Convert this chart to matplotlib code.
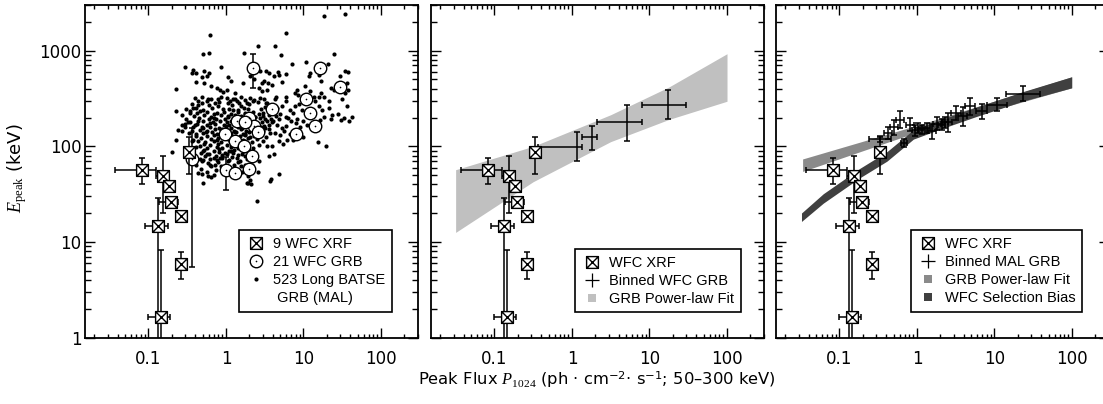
import numpy as np
import matplotlib
matplotlib.use("Agg")
import matplotlib.pyplot as plt
import matplotlib.ticker as mticker
from matplotlib.path import Path
from matplotlib.lines import Line2D

plt.rcParams["font.family"] = ["Liberation Sans", "DejaVu Sans"]
plt.rcParams["mathtext.fontset"] = "custom"
plt.rcParams["mathtext.rm"] = "Liberation Serif"
plt.rcParams["mathtext.it"] = "Liberation Serif:italic"
plt.rcParams["mathtext.sf"] = "DejaVu Sans"

# ---- WFC XRF (same in all panels) ----
xrf_flux = [0.082, 0.152, 0.184, 0.193, 0.263, 0.134, 0.263, 0.144, 0.336]
xrf_flux_lo = [0.045, 0.025, 0.025, 0.055, 0.03, 0.044, 0.03, 0.044, 0.03]
xrf_flux_hi = [0.042, 0.028, 0.03, 0.049, 0.03, 0.046, 0.03, 0.046, 0.03]
xrf_epeak = [57, 49, 38.7, 26.2, 18.8, 14.8, 5.9, 1.66, 88]
xrf_epeak_lo = [17, 29, 4, 3, 2, 14.3, 1.8, 1.16, 36]
xrf_epeak_hi = [19, 30, 4, 3, 2, 14.2, 1.9, 6.64, 36]

# ---- WFC GRB (panel 1) ----
grb_flux = [0.36, 1.0, 1.31, 2.0, 2.21, 1.37, 2.0, 2.3, 0.97, 1.31, 1.72,
            2.14, 3.89, 8.0, 10.8, 12.1, 14.1, 16.3, 29.6, 1.75, 2.6]
grb_epeak = [74, 57, 52.6, 58, 662, 183, 198, 165, 133, 115, 100,
             78.6, 243, 133, 316, 221, 162, 651, 419, 180, 140]
grb_epeak_lo = [68.5, 22.4, 0, 0, 254, 0, 0, 0, 0, 0, 0,
                0, 0, 0, 0, 0, 0, 0, 0, 0, 0]
grb_epeak_hi = [82, 20, 0, 0, 253, 0, 0, 0, 0, 0, 0,
                0, 0, 0, 0, 0, 0, 0, 0, 0, 0]

# ---- BATSE long GRB (MAL), log10(P), log10(Epeak) ----
batse_log = [
    (-0.21, 3.16), (0.41, 3.05), (0.23, 2.98), (-0.22, 2.98), (-0.29, 2.96), (-0.53, 2.83),
    (-0.43, 2.80), (-0.44, 2.77), (-0.39, 2.77), (-0.28, 2.79), (-0.22, 2.77), (-0.25, 2.73),
    (-0.07, 2.83), (0.03, 2.72), (0.07, 2.68), (0.22, 2.66), (-0.31, 2.72), (-0.38, 2.67),
    (-0.28, 2.66), (-0.19, 2.63), (-0.12, 2.61), (-0.08, 2.59), (-0.04, 2.57), (0.01, 2.59),
    (-0.64, 2.60), (0.12, 2.56), (0.31, 2.73), (0.46, 2.66), (0.42, 2.61), (-0.31, 2.52),
    (-0.36, 2.47), (-0.25, 2.47), (-0.19, 2.49), (-0.14, 2.45), (-0.10, 2.49), (0.01, 2.51),
    (0.05, 2.47), (0.12, 2.49), (0.17, 2.45), (0.25, 2.48), (0.31, 2.51), (0.35, 2.47),
    (0.44, 2.51), (-0.44, 2.44), (-0.38, 2.40), (-0.47, 2.37), (-0.34, 2.37), (-0.64, 2.37),
    (-0.57, 2.33), (0.44, 2.79), (0.36, 2.70),
    (0.77, 3.18), (0.63, 3.05), (0.71, 2.95), (1.40, 2.96), (0.85, 2.86), (1.03, 2.88),
    (1.32, 2.86), (0.52, 2.79), (0.56, 2.77), (0.62, 2.73), (0.68, 2.75), (0.67, 2.78),
    (0.77, 2.76), (0.72, 2.67), (0.49, 2.68), (0.54, 2.66), (0.59, 2.64), (0.53, 2.59),
    (0.47, 2.58), (0.64, 2.52), (0.63, 2.49), (0.59, 2.42), (0.53, 2.45), (0.49, 2.49),
    (0.77, 2.52), (0.77, 2.47), (0.83, 2.38), (0.89, 2.42), (0.87, 2.35), (0.94, 2.44),
    (0.98, 2.38), (0.92, 2.59), (0.89, 2.56), (0.93, 2.54), (1.02, 2.63), (1.09, 2.58),
    (1.13, 2.52), (1.15, 2.47), (1.20, 2.52), (1.22, 2.56), (1.26, 2.52), (1.20, 2.42),
    (1.24, 2.38), (1.33, 2.40), (1.37, 2.33), (1.45, 2.34), (1.50, 2.49), (1.53, 2.56),
    (1.58, 2.59), (1.56, 2.66), (1.47, 2.74), (1.53, 2.79), (1.58, 2.78), (1.36, 2.61),
    (1.40, 2.59), (1.20, 2.75), (1.22, 2.68), (1.09, 2.77), (1.07, 2.73), (1.33, 2.47),
    (1.26, 2.31), (1.56, 2.42), (1.63, 2.31), (1.52, 2.30),
    (1.26, 3.36), (1.54, 3.38), (1.29, 2.00), (1.19, 2.05), (1.36, 2.29), (1.48, 2.28),
    (1.59, 2.27), (0.68, 2.06), (0.73, 2.02), (0.79, 2.07), (0.53, 2.00), (0.59, 2.00),
    (0.55, 1.90), (0.62, 1.92), (0.58, 1.66), (0.69, 1.71),
    (0.53, 2.27), (0.60, 2.25), (0.66, 2.22), (0.72, 2.19), (0.78, 2.21), (0.84, 2.26),
    (0.90, 2.24), (0.95, 2.20), (0.49, 2.21), (0.56, 2.18), (0.63, 2.14), (0.70, 2.12),
    (0.75, 2.16), (0.82, 2.13), (0.88, 2.17), (0.47, 2.14), (0.52, 2.10), (0.58, 2.29),
    (0.68, 2.29), (0.80, 2.30), (0.92, 2.29), (0.99, 2.27), (0.48, 2.35), (0.55, 2.33),
    (0.62, 2.37), (0.70, 2.34), (0.77, 2.31), (0.50, 2.41), (0.66, 2.40), (0.72, 2.42),
    (0.87, 2.07), (0.95, 2.14), (1.21, 2.28), (1.05, 2.22), (1.10, 2.32), (1.00, 2.10),
    (-0.70, 1.94), (-0.62, 2.17), (-0.57, 2.22), (-0.53, 2.20), (-0.49, 2.25), (-0.44, 2.16),
    (-0.40, 2.22), (-0.36, 2.27), (-0.31, 2.20), (-0.38, 2.13), (-0.42, 2.07), (-0.36, 2.06),
    (-0.34, 2.00), (-0.29, 1.95), (-0.25, 1.92), (-0.29, 1.86), (-0.23, 1.83), (-0.16, 1.88),
    (-0.14, 1.81), (-0.38, 1.81), (-0.31, 1.71), (-0.19, 1.68), (-0.08, 1.88), (-0.01, 1.93),
    (0.07, 1.95), (0.18, 1.85), (0.25, 1.81), (0.33, 1.81), (0.42, 1.85), (0.41, 1.73),
    (0.31, 1.65), (0.27, 1.62), (0.40, 1.43), (-0.36, 1.72), (-0.23, 1.69), (-0.30, 1.62),
    (-0.19, 1.79), (-0.12, 1.86), (-0.64, 2.07), (-0.57, 2.16), (-0.53, 2.23), (-0.51, 2.39),
    (0.29, 1.62), (0.32, 1.61), (0.57, 1.64),
    # dense core
    (-0.40, 2.505), (-0.23, 2.492), (-0.06, 2.512), (0.09, 2.497), (0.20, 2.518), (0.36, 2.488),
    (-0.31, 2.455), (-0.09, 2.468), (0.03, 2.449), (0.14, 2.472), (0.27, 2.452), (0.41, 2.466),
    (0.52, 2.458), (-0.36, 2.428), (-0.22, 2.437), (-0.10, 2.421), (0.08, 2.434), (0.20, 2.426),
    (0.30, 2.441), (0.57, 2.423), (-0.42, 2.397), (-0.30, 2.384), (-0.18, 2.401), (-0.04, 2.386),
    (0.04, 2.395), (0.15, 2.381), (0.23, 2.404), (0.28, 2.388), (0.45, 2.392), (0.56, 2.385),
    (-0.47, 2.352), (-0.37, 2.344), (-0.25, 2.361), (-0.11, 2.347), (-0.03, 2.357), (0.06, 2.341),
    (0.15, 2.355), (0.25, 2.348), (0.35, 2.362), (0.42, 2.343), (0.61, 2.354),
    (-0.41, 2.318), (-0.28, 2.326), (-0.19, 2.311), (-0.06, 2.323), (0.03, 2.314), (0.12, 2.329),
    (0.19, 2.316), (0.31, 2.324), (0.37, 2.309), (0.48, 2.321), (0.65, 2.315),
    (-0.51, 2.287), (-0.35, 2.296), (-0.22, 2.281), (-0.15, 2.293), (-0.01, 2.284), (0.09, 2.297),
    (0.16, 2.283), (0.25, 2.291), (0.32, 2.279), (0.44, 2.294), (0.50, 2.286),
    (-0.46, 2.258), (-0.29, 2.266), (-0.17, 2.251), (-0.08, 2.263), (0.01, 2.254), (0.07, 2.268),
    (0.14, 2.249), (0.20, 2.261), (0.29, 2.255), (0.36, 2.267), (0.47, 2.252), (0.61, 2.262),
    (-0.37, 2.233), (-0.24, 2.224), (-0.14, 2.238), (-0.03, 2.227), (0.04, 2.221), (0.11, 2.236),
    (0.17, 2.225), (0.26, 2.232), (0.33, 2.219), (0.39, 2.234), (0.56, 2.228),
    (-0.42, 2.204), (-0.29, 2.193), (-0.21, 2.207), (-0.09, 2.196), (0.00, 2.209), (0.06, 2.191),
    (0.16, 2.202), (0.21, 2.195), (0.30, 2.208), (0.34, 2.189), (0.45, 2.203), (0.51, 2.194),
    (-0.33, 2.174), (-0.25, 2.163), (-0.14, 2.178), (-0.07, 2.166), (0.03, 2.172), (0.10, 2.161),
    (0.20, 2.177), (0.26, 2.165), (0.37, 2.171), (0.48, 2.163),
    (-0.48, 2.143), (-0.30, 2.135), (-0.18, 2.148), (-0.11, 2.132), (-0.01, 2.145), (0.06, 2.137),
    (0.13, 2.149), (0.24, 2.133), (0.30, 2.146), (0.43, 2.138), (0.57, 2.144),
    (-0.39, 2.113), (-0.24, 2.104), (-0.15, 2.117), (-0.04, 2.102), (0.07, 2.115), (0.18, 2.106),
    (0.25, 2.119), (0.36, 2.103), (0.44, 2.112),
    (-0.32, 2.084), (-0.19, 2.073), (-0.10, 2.087), (0.02, 2.076), (0.11, 2.089), (0.22, 2.071),
    (0.29, 2.082), (0.40, 2.077),
    (-0.44, 2.054), (-0.27, 2.046), (-0.15, 2.058), (-0.07, 2.043), (0.05, 2.052), (0.14, 2.047),
    (0.25, 2.059), (0.33, 2.044), (0.48, 2.051),
    (-0.28, 2.023), (-0.20, 2.014), (-0.10, 2.027), (0.01, 2.016), (0.08, 2.028), (0.20, 2.012),
    (0.27, 2.025), (0.42, 2.018),
    (-0.39, 1.994), (-0.24, 1.985), (-0.12, 1.997), (-0.05, 1.983), (0.07, 1.992), (0.15, 1.986),
    (0.26, 1.998), (0.35, 1.981),
    (-0.28, 1.963), (-0.16, 1.954), (-0.09, 1.967), (0.04, 1.955), (0.11, 1.966), (0.23, 1.952),
    (0.30, 1.964), (-0.32, 1.933), (-0.22, 1.924), (-0.09, 1.936), (0.01, 1.922), (0.09, 1.931),
    (0.21, 1.925), (0.28, 1.938), (-0.27, 1.903), (-0.13, 1.894), (-0.05, 1.906), (0.08, 1.892),
    (0.15, 1.905), (0.25, 1.897), (0.36, 1.902), (-0.34, 1.872), (-0.20, 1.864), (-0.05, 1.876),
    (0.04, 1.861), (0.14, 1.873), (0.27, 1.866), (-0.31, 1.843), (-0.10, 1.834), (0.03, 1.846),
    (0.16, 1.838), (-0.21, 1.804), (-0.06, 1.795), (0.10, 1.808), (0.19, 1.797),
    (-0.32, 1.764), (-0.13, 1.756), (0.01, 1.768), (0.14, 1.753),
    (-0.24, 1.733), (0.08, 1.724), (0.21, 1.736), (-0.16, 1.702), (0.29, 1.695),
    (-0.13, 2.285), (0.02, 2.305), (0.18, 2.245), (0.28, 2.215), (-0.05, 2.185), (0.12, 2.155),
    (0.22, 2.125), (-0.02, 2.095), (0.15, 2.065), (0.33, 2.265), (-0.20, 2.245), (0.09, 2.375),
    (-0.16, 2.335), (0.38, 2.305), (0.24, 2.335), (0.41, 2.185), (-0.26, 2.155), (0.31, 2.095),
    (-0.12, 2.065), (0.19, 2.015),
]

# ---- binned WFC GRB (panel 2) ----
bin_flux = [1.17, 1.80, 5.17, 17.2]
bin_flux_lo = [0.80, 0.44, 3.05, 9.1]
bin_flux_hi = [0.19, 0.32, 2.9, 12.1]
bin_epeak = [97.6, 124, 178, 273]
bin_epeak_lo = [26.8, 31.7, 65, 78]
bin_epeak_hi = [42.4, 41, 95, 113]

# GRB power-law fit band (panel 2)
fit_flux = [0.0316, 0.316, 3.16, 17.8, 100]
fit_lo = [12.6, 42.7, 112, 191, 296]
fit_hi = [57, 100, 214, 417, 929]

# ---- binned MAL GRB (panel 3), errors in dex ----
mal_flux = [0.333, 0.426, 0.505, 0.604, 0.68, 0.81, 0.94, 1.04, 1.15, 1.33, 1.55,
            1.80, 2.08, 2.30, 2.54, 3.19, 3.89, 4.83, 6.83, 10.7, 23.5]
mal_epeak = [119, 138, 158, 190, 109, 169, 147, 156, 150, 156, 144,
             173, 169, 178, 178, 224, 206, 262, 232, 273, 354]
mal_dlogP = [0.14, 0.05, 0.05, 0.05, 0.04, 0.05, 0.04, 0.04, 0.04, 0.05, 0.05,
             0.05, 0.05, 0.04, 0.05, 0.06, 0.06, 0.06, 0.07, 0.13, 0.22]
mal_dlogE = [0.03, 0.06, 0.08, 0.09, 0.04, 0.07, 0.06, 0.05, 0.05, 0.05, 0.08,
             0.07, 0.06, 0.06, 0.10, 0.07, 0.10, 0.09, 0.08, 0.07, 0.08]

# GRB power-law fit (panel 3) and WFC selection bias band
pl_flux = [0.0335, 1.09, 99]
pl_lo = [54.7, 144, 409]
pl_hi = [73.8, 169, 533]
bias_flux = [0.0324, 0.062, 0.184, 0.41, 0.90, 1.98, 5.33, 23.5, 99]
bias_lo = [16.4, 25.5, 47, 70, 119, 151, 200, 298, 409]
bias_hi = [20.1, 32, 59, 88, 149, 189, 251, 374, 533]

# square with a cross marker
xsq = Path([(-1, -1), (1, -1), (1, 1), (-1, 1), (-1, -1),
            (-1, -1), (1, 1), (-1, 1), (1, -1)],
           [Path.MOVETO, Path.LINETO, Path.LINETO, Path.LINETO, Path.CLOSEPOLY,
            Path.MOVETO, Path.LINETO, Path.MOVETO, Path.LINETO])

W, H = 1103, 404
fig = plt.figure(figsize=(W / 100, H / 100), dpi=100)
ax_left = [85, 431, 776]
ax_w = 333
axes = [fig.add_axes([l / W, 66.3 / H, ax_w / W, 332.7 / H]) for l in ax_left]

err_kw = dict(fmt="none", ecolor="k", elinewidth=1.1, capsize=2.3, capthick=1.1)


def draw_xrf(ax):
    ax.errorbar(xrf_flux, xrf_epeak, xerr=[xrf_flux_lo, xrf_flux_hi],
                yerr=[xrf_epeak_lo, xrf_epeak_hi], zorder=4, **err_kw)
    ax.plot(xrf_flux, xrf_epeak, ls="none", marker=xsq, ms=8.5, mfc="white",
            mec="k", mew=1.0, zorder=5)


for i, ax in enumerate(axes):
    ax.set_xscale("log")
    ax.set_yscale("log")
    ax.set_xlim(0.0152, 300)
    ax.set_ylim(1, 3000)
    ax.xaxis.set_major_locator(mticker.FixedLocator([0.01, 0.1, 1, 10, 100]))
    ax.yaxis.set_major_locator(mticker.FixedLocator([1, 10, 100, 1000]))
    ax.xaxis.set_minor_locator(mticker.LogLocator(subs=np.arange(2, 10), numticks=20))
    ax.yaxis.set_minor_locator(mticker.LogLocator(subs=np.arange(2, 10), numticks=20))
    fmt = mticker.FuncFormatter(lambda v, p: "%g" % v)
    ax.xaxis.set_major_formatter(fmt)
    ax.yaxis.set_major_formatter(fmt)
    ax.xaxis.set_minor_formatter(mticker.NullFormatter())
    ax.yaxis.set_minor_formatter(mticker.NullFormatter())
    ax.tick_params(which="both", direction="in", top=True, right=True, width=1.0,
                   labelsize=12, colors="k", labelfontfamily="DejaVu Sans")
    ax.tick_params(axis="both", which="major", length=7.2)
    ax.tick_params(axis="x", which="minor", length=3.0)
    ax.tick_params(axis="y", which="minor", length=4.3)
    ax.tick_params(axis="x", which="major", pad=9.0)
    ax.tick_params(axis="y", which="major", pad=2.5)
    if i > 0:
        ax.tick_params(labelleft=False)
    for s in ax.spines.values():
        s.set_linewidth(1.3)

leg_kw = dict(loc="lower right", fontsize=10.5, labelspacing=0.28, handlelength=1.4,
              handletextpad=0.5, borderpad=0.45, borderaxespad=0, fancybox=False,
              edgecolor="k", framealpha=1)

# panel 1
ax = axes[0]
bl = np.array(batse_log)
ax.plot(10 ** bl[:, 0], 10 ** bl[:, 1], ls="none", marker="o", ms=3.0, color="k",
        mew=0, zorder=2)
ax.errorbar(grb_flux, grb_epeak, yerr=[grb_epeak_lo, grb_epeak_hi], zorder=2.5, **err_kw)
ax.plot(grb_flux, grb_epeak, ls="none", marker="o", ms=9, mfc="white", mec="k",
        mew=1.0, zorder=3)
ax.plot(grb_flux, grb_epeak, ls="none", marker="o", ms=1.2, color="k", mew=0, zorder=3.5)
draw_xrf(ax)
h_xrf = Line2D([], [], ls="none", marker=xsq, ms=8.5, mfc="white", mec="k", mew=1.0)
h_circ = Line2D([], [], ls="none", marker="o", ms=9, mfc="white", mec="k", mew=1.0)
h_cdot = Line2D([], [], ls="none", marker="o", ms=1.2, color="k", mew=0)
h_dot = Line2D([], [], ls="none", marker="o", ms=3.0, color="k", mew=0)
h_none = Line2D([], [], ls="none")
leg = ax.legend([h_xrf, (h_circ, h_cdot), h_dot, h_none],
                ["9 WFC XRF", "21 WFC GRB", "523 Long BATSE", " GRB (MAL)"],
                bbox_to_anchor=(0.922, 0.078), **leg_kw)
leg.get_frame().set_linewidth(1.2)

# panel 2
ax = axes[1]
ax.fill_between(fit_flux, fit_lo, fit_hi, color="#c0c0c0", lw=0, zorder=1)
ax.errorbar(bin_flux, bin_epeak, xerr=[bin_flux_lo, bin_flux_hi],
            yerr=[bin_epeak_lo, bin_epeak_hi], zorder=3, **err_kw)
draw_xrf(ax)
h_plus = Line2D([], [], ls="none", marker="+", ms=10, mew=0.9, color="k")
h_g1 = Line2D([], [], ls="none", marker="s", ms=6, color="#c0c0c0", mew=0)
leg = ax.legend([h_xrf, h_plus, h_g1], ["WFC XRF", "Binned WFC GRB", "GRB Power-law Fit"],
                bbox_to_anchor=(0.931, 0.076), **leg_kw)
leg.get_frame().set_linewidth(1.2)

# panel 3
ax = axes[2]
ax.fill_between(pl_flux, pl_lo, pl_hi, color="#8a8a8a", lw=0, zorder=1)
ax.fill_between(bias_flux, bias_lo, bias_hi, color="#404040", lw=0, zorder=1.5)
mf = np.array(mal_flux)
me = np.array(mal_epeak)
dp = 10 ** np.array(mal_dlogP)
de = 10 ** np.array(mal_dlogE)
ax.errorbar(mf, me, xerr=[mf - mf / dp, mf * dp - mf], yerr=[me - me / de, me * de - me],
            zorder=3, **err_kw)
draw_xrf(ax)
h_g2 = Line2D([], [], ls="none", marker="s", ms=6, color="#8a8a8a", mew=0)
h_g3 = Line2D([], [], ls="none", marker="s", ms=6, color="#404040", mew=0)
leg = ax.legend([h_xrf, h_plus, h_g2, h_g3],
                ["WFC XRF", "Binned MAL GRB", "GRB Power-law Fit", "WFC Selection Bias"],
                bbox_to_anchor=(0.92, 0.078), **leg_kw)
leg.get_frame().set_linewidth(1.2)

fig.text(17 / W, 1 - 168 / H, r"$E_{\mathrm{peak}}$ (keV)", rotation=90,
         ha="center", va="center", fontsize=13, family="DejaVu Sans")
fig.text(597 / W, 1 - 368.5 / H,
         r"Peak Flux $P_{\mathrm{1024}}$ (ph · cm$^{\mathsf{-2}}$· s$^{\mathsf{-1}}$; 50–300 keV)",
         ha="center", va="top", fontsize=11.8, family="DejaVu Sans")

fig.savefig("out.png", dpi=100)
